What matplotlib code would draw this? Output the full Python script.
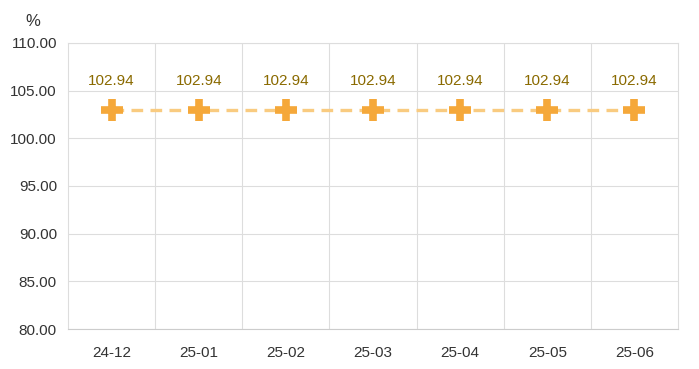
import matplotlib.pyplot as plt

months = ['24-12', '25-01', '25-02', '25-03', '25-04', '25-05', '25-06']
values = [102.94, 102.94, 102.94, 102.94, 102.94, 102.94, 102.94]
yticks = [80, 85, 90, 95, 100, 105, 110]

plt.rcParams['font.family'] = ['Arial', 'Liberation Sans', 'DejaVu Sans']

fig = plt.figure(figsize=(6.99, 3.69), dpi=100)
ax = fig.add_axes([0.0973, 0.1084, 0.8727, 0.7751])

x = list(range(len(months)))
ax.plot(x, values, color='#F9CB80', linestyle=(0, (3.5, 2.2)), linewidth=2.4, zorder=2)
ax.plot(x, values, linestyle='none', marker='+', markersize=16, markeredgewidth=5.5,
        color='#F5A83A', zorder=3)

for xi, v in zip(x, values):
    ax.annotate(f'{v:.2f}', (xi, v), xytext=(0, 21), textcoords='offset points',
                ha='center', va='center', fontsize=11, color='#8A6A00')

ax.set_xlim(-0.5, len(months) - 0.5)
ax.set_ylim(80, 110)
ax.set_yticks(yticks)
ax.set_yticklabels([f'{t:.2f}' for t in yticks])
ax.set_xticks(x)
ax.set_xticklabels(months)
ax.set_xticks([i - 0.5 for i in range(1, len(months))], minor=True)

ax.grid(axis='y', color='#DDDDDD', linewidth=0.8)
ax.grid(axis='x', which='minor', color='#DDDDDD', linewidth=0.8)
ax.set_axisbelow(True)
for side in ['top', 'right', 'left']:
    ax.spines[side].set_color('#DDDDDD')
    ax.spines[side].set_linewidth(0.8)
ax.spines['bottom'].set_color('#CCCCCC')
ax.tick_params(axis='both', which='both', length=0, labelsize=11, labelcolor='#333333')
ax.tick_params(axis='x', pad=12)
ax.tick_params(axis='y', pad=8)

fig.text(33 / 699, 1 - 21 / 369, '%', ha='center', va='center', fontsize=12, color='#333333')

fig.savefig('out.png', dpi=100)
